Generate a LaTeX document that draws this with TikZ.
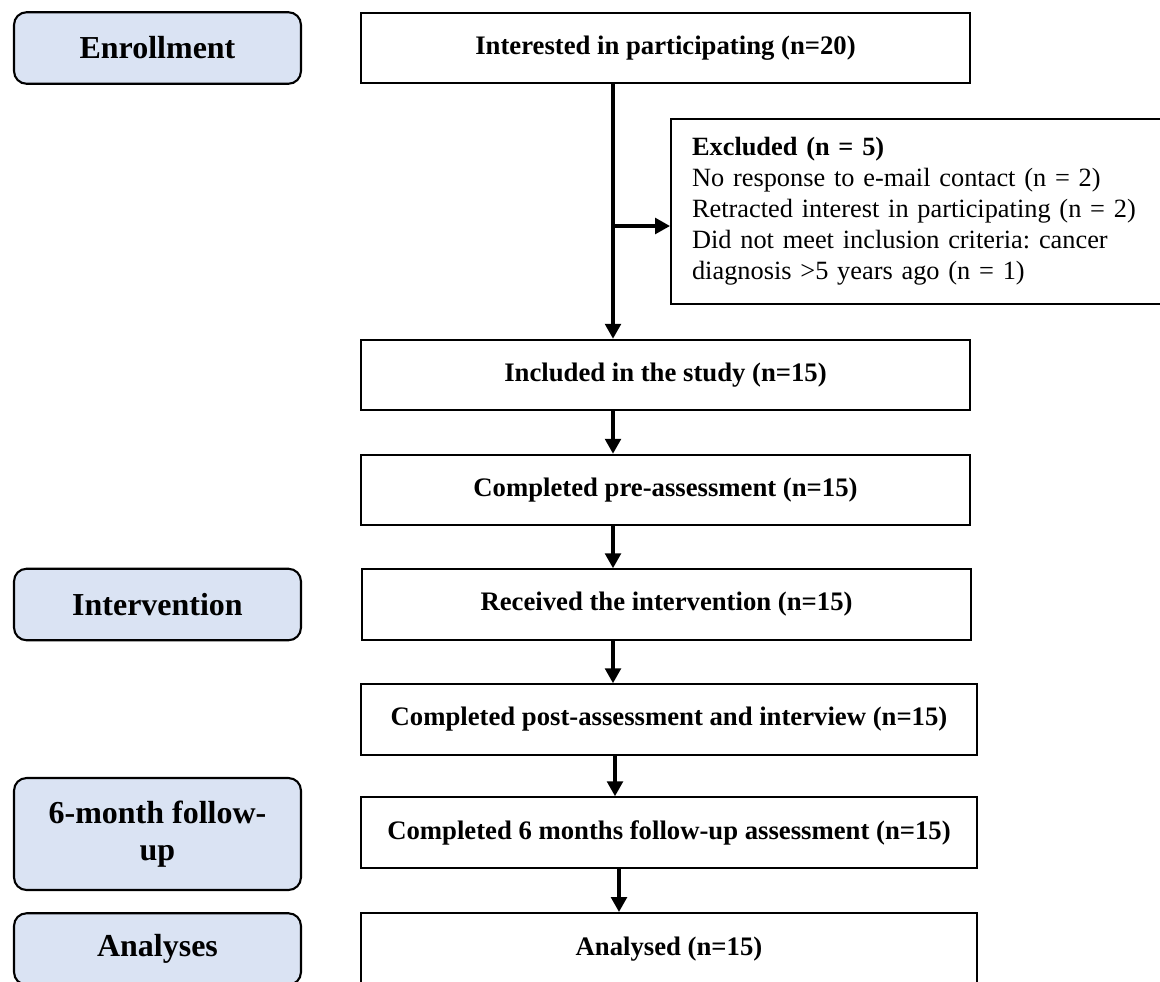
\documentclass[tikz,border=0pt]{standalone}
\usepackage{fontspec}
\setmainfont{Liberation Serif}
\usepackage{tikz}
\usetikzlibrary{positioning,arrows.meta}
\definecolor{cStage}{HTML}{DAE3F3}
\definecolor{cLine} {HTML}{000000}

\begin{document}
\begin{tikzpicture}[x=0.02cm,y=-0.02cm,
    stagebox/.style={draw=cLine,line width=1.2pt,fill=cStage,rounded corners=0.25cm,
      minimum width=5.74cm,minimum height=1.43cm,align=center,
      font=\fontsize{18.2}{21}\selectfont\bfseries},
    flowbox/.style={draw=cLine,line width=1.2pt,minimum width=12.18cm,minimum height=1.41cm,
      font=\fontsize{15.2}{18}\selectfont\bfseries},
    notebox/.style={draw=cLine,line width=1.2pt,minimum height=3.7cm,inner xsep=0.42cm,
      text width=9.14cm,align=left,font=\fontsize{15}{17.6}\selectfont\frenchspacing},
    flowarrow/.style={line width=1.8pt,-{Triangle[length=8.5pt,width=9pt]}}]
        \useasboundingbox (0,0) rectangle (1160,981);   % page frame
        % stages on the left
        \node[stagebox] (enroll)  at (157.5,48)  {Enrollment};
        \node[stagebox] (interv)  at (157.5,604.5) {Intervention};
        \node[stagebox,minimum height=2.24cm] (follow) at (157.5,834) {6-month follow-\\up};
        \node[stagebox] (analyses) at (157.5,949) {Analyses};
        % flow on the right
        \node[flowbox] (interested) at (665.5,48)  {Interested in participating (n=20)};
        \node[notebox] (excluded)   at (920.5,211.5) {\textbf{Excluded (n = 5)}\\
          No response to e-mail contact (n = 2)\\
          Retracted interest in participating (n = 2)\\
          Did not meet inclusion criteria: cancer\\
          diagnosis >5 years ago (n = 1)};
        \node[flowbox] (included)   at (665.5,375) {Included in the study (n=15)};
        \node[flowbox] (preassess)  at (665.5,490) {Completed pre-assessment (n=15)};
        \node[flowbox] (received)   at (666.5,604.5) {Received the intervention (n=15)};
        \node[flowbox,minimum width=12.32cm] (postassess) at (669,719.5) {Completed post-assessment and interview (n=15)};
        \node[flowbox,minimum width=12.32cm] (sixmonth)   at (669,832.5) {Completed 6 months follow-up assessment (n=15)};
        \node[flowbox,minimum width=12.32cm,minimum height=1.44cm] (analysed) at (669,949) {Analysed (n=15)};
        % connectors
        \coordinate (spine)  at (613,0);
        \coordinate (branch) at (613,226);
        \draw[flowarrow] (interested.south -| spine) -- (included.north -| spine);
        \draw[flowarrow] (branch) -- (excluded.west |- branch);
        \draw[flowarrow] (included.south -| spine) -- (preassess.north -| spine);
        \draw[flowarrow] (preassess.south -| spine) -- (received.north -| spine);
        \draw[flowarrow] (received.south -| spine) -- (postassess.north -| spine);
        \draw[flowarrow] ([xshift=0.04cm]postassess.south -| spine) -- ([xshift=0.04cm]sixmonth.north -| spine);
        \draw[flowarrow] ([xshift=0.12cm]sixmonth.south -| spine) -- ([xshift=0.12cm]analysed.north -| spine);
      \end{tikzpicture}
\end{document}
